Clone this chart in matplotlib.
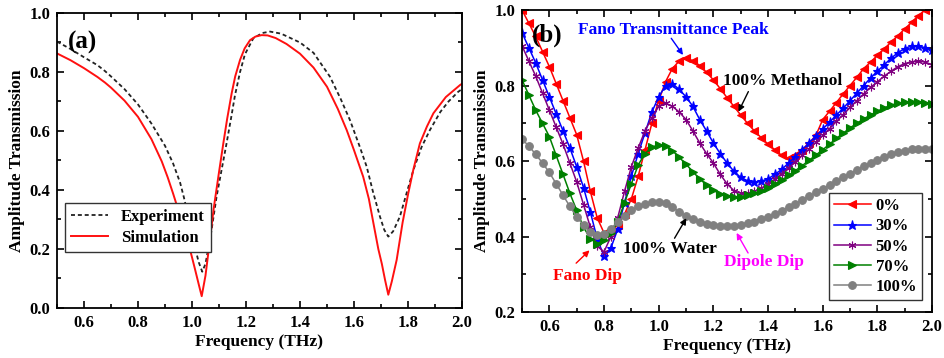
import numpy as np
import matplotlib
matplotlib.use('Agg')
import matplotlib.pyplot as plt
from matplotlib.ticker import MultipleLocator

plt.rcParams['font.family'] = ['Liberation Serif', 'DejaVu Serif']
plt.rcParams['font.weight'] = 'bold'
plt.rcParams['axes.labelweight'] = 'bold'
plt.rcParams['font.size'] = 12

# ---- panel (a): experiment vs simulation ----
exp_x = [0.5, 0.55, 0.6, 0.65, 0.678, 0.7, 0.75, 0.8, 0.85, 0.9, 0.93, 0.956, 0.97, 0.99,
         1.011, 1.025, 1.038, 1.05, 1.07, 1.091, 1.11, 1.128, 1.145, 1.159, 1.178, 1.196,
         1.227, 1.26, 1.289, 1.33, 1.4, 1.45, 1.511, 1.55, 1.585, 1.62, 1.647, 1.67, 1.696,
         1.712, 1.727, 1.745, 1.77, 1.795, 1.82, 1.85, 1.881, 1.92, 1.95, 1.986, 2.0]
exp_y = [0.903, 0.878, 0.85, 0.823, 0.803, 0.785, 0.742, 0.69, 0.625, 0.55, 0.49, 0.425, 0.375, 0.295,
         0.205, 0.155, 0.123, 0.15, 0.25, 0.377, 0.47, 0.558, 0.645, 0.72, 0.8, 0.86,
         0.914, 0.932, 0.937, 0.93, 0.9, 0.865, 0.784, 0.71, 0.637, 0.55, 0.479, 0.395, 0.31,
         0.265, 0.242, 0.26, 0.31, 0.39, 0.468, 0.545, 0.603, 0.665, 0.7, 0.733, 0.742]

sim_x = [0.5, 0.55, 0.6, 0.65, 0.678, 0.7, 0.75, 0.8, 0.85, 0.888, 0.91, 0.93, 0.95, 0.97,
         0.99, 1.0, 1.011, 1.025, 1.036, 1.05, 1.065, 1.08, 1.1, 1.116, 1.13, 1.147, 1.16,
         1.178, 1.195, 1.215, 1.235, 1.258, 1.28, 1.31, 1.35, 1.4, 1.45, 1.5, 1.54, 1.573,
         1.6, 1.634, 1.655, 1.672, 1.69, 1.703, 1.715, 1.727, 1.74, 1.758, 1.78, 1.801,
         1.82, 1.844, 1.87, 1.894, 1.94, 1.993, 2.0]
sim_y = [0.863, 0.84, 0.813, 0.783, 0.764, 0.747, 0.703, 0.648, 0.572, 0.497, 0.443, 0.388, 0.33, 0.27,
         0.207, 0.172, 0.132, 0.08, 0.04, 0.11, 0.22, 0.335, 0.46, 0.558, 0.64, 0.728, 0.785,
         0.841, 0.88, 0.908, 0.92, 0.925, 0.924, 0.915, 0.895, 0.862, 0.815, 0.75, 0.675, 0.603,
         0.535, 0.445, 0.37, 0.287, 0.2, 0.15, 0.095, 0.045, 0.09, 0.163, 0.29, 0.389,
         0.47, 0.558, 0.615, 0.66, 0.715, 0.756, 0.76]

# ---- panel (b): methanol / water mixtures ----
freq_b = np.round(np.arange(0.5, 2.0001, 0.025), 3)
pct_labels = ['0%', '30%', '50%', '70%', '100%']

t0 = [1.00, 0.965, 0.93, 0.89, 0.85, 0.805, 0.76, 0.715, 0.67, 0.60, 0.52, 0.45, 0.41, 0.415,
      0.43, 0.46, 0.50, 0.56, 0.63, 0.70, 0.76, 0.81, 0.845, 0.865, 0.872, 0.866, 0.853, 0.835,
      0.815, 0.792, 0.768, 0.745, 0.722, 0.70, 0.68, 0.662, 0.645, 0.63, 0.615, 0.607, 0.615,
      0.63, 0.648, 0.668, 0.71, 0.732, 0.755, 0.778, 0.80, 0.822, 0.845, 0.862, 0.88, 0.897,
      0.915, 0.932, 0.95, 0.967, 0.985, 1.0, 1.015]
t30 = [0.94, 0.90, 0.86, 0.815, 0.77, 0.725, 0.68, 0.635, 0.585, 0.53, 0.465, 0.395, 0.348,
       0.37, 0.42, 0.49, 0.56, 0.62, 0.675, 0.73, 0.77, 0.80, 0.805, 0.79, 0.77, 0.745, 0.71,
       0.68, 0.648, 0.62, 0.595, 0.573, 0.557, 0.548, 0.545, 0.547, 0.553, 0.565, 0.578, 0.595,
       0.612, 0.63, 0.648, 0.666, 0.685, 0.703, 0.722, 0.74, 0.76, 0.78, 0.80, 0.82, 0.838,
       0.855, 0.872, 0.887, 0.898, 0.905, 0.905, 0.90, 0.893]
t50 = [0.905, 0.865, 0.825, 0.78, 0.735, 0.69, 0.645, 0.595, 0.545, 0.485, 0.425, 0.375, 0.36,
       0.40, 0.45, 0.52, 0.585, 0.635, 0.68, 0.715, 0.745, 0.753, 0.745, 0.73, 0.71, 0.68, 0.648,
       0.62, 0.595, 0.565, 0.54, 0.522, 0.515, 0.515, 0.52, 0.528, 0.54, 0.552, 0.567, 0.582,
       0.598, 0.615, 0.632, 0.65, 0.668, 0.686, 0.705, 0.723, 0.742, 0.76, 0.778, 0.795, 0.81,
       0.825, 0.838, 0.85, 0.858, 0.863, 0.865, 0.862, 0.855]
t70 = [0.815, 0.775, 0.735, 0.70, 0.665, 0.615, 0.565, 0.515, 0.47, 0.425, 0.395, 0.382, 0.39,
       0.41, 0.44, 0.49, 0.54, 0.59, 0.62, 0.637, 0.643, 0.64, 0.628, 0.61, 0.592, 0.572, 0.553,
       0.537, 0.523, 0.513, 0.507, 0.505, 0.506, 0.51, 0.515, 0.522, 0.53, 0.54, 0.55, 0.562,
       0.575, 0.588, 0.602, 0.616, 0.63, 0.645, 0.66, 0.674, 0.688, 0.70, 0.712, 0.722, 0.732,
       0.741, 0.748, 0.753, 0.756, 0.757, 0.757, 0.754, 0.75]
t100 = [0.658, 0.64, 0.618, 0.595, 0.57, 0.54, 0.51, 0.48, 0.453, 0.43, 0.412, 0.404, 0.408,
        0.42, 0.44, 0.455, 0.47, 0.48, 0.487, 0.491, 0.492, 0.488, 0.478, 0.466, 0.455, 0.446,
        0.439, 0.434, 0.43, 0.428, 0.428, 0.429, 0.431, 0.435, 0.44, 0.446, 0.452, 0.46, 0.469,
        0.478, 0.487, 0.497, 0.507, 0.517, 0.527, 0.537, 0.547, 0.557, 0.567, 0.577, 0.587,
        0.596, 0.604, 0.612, 0.619, 0.624, 0.628, 0.631, 0.633, 0.633, 0.632]

series_b = [t0, t30, t50, t70, t100]
colors_b = ['#ff0000', '#0000ff', '#800080', '#008000', '#808080']
markers_b = ['<', '*', (6, 2, 0), '>', 'o']
msizes_b = [5.5, 6.5, 5.5, 5.5, 5.5]

fig = plt.figure(figsize=(9.45, 3.58), dpi=100)
ax1 = fig.add_axes([0.0603, 0.1397, 0.4286, 0.8240])
ax2 = fig.add_axes([0.5524, 0.1277, 0.4339, 0.8444])

ax1.plot(exp_x, exp_y, color='#222222', lw=1.3, ls=(0, (2.2, 1.6)), label='Experiment')
ax1.plot(sim_x, sim_y, color='#ff1010', lw=1.4, label='Simulation')
ax1.set_xlim(0.5, 2.0)
ax1.set_ylim(0.0, 1.0)
ax1.set_xticks([0.6, 0.8, 1.0, 1.2, 1.4, 1.6, 1.8, 2.0])
ax1.set_yticks([0.0, 0.2, 0.4, 0.6, 0.8, 1.0])
ax1.text(0.596, 0.90, '(a)', fontsize=18, fontweight='bold', ha='center', va='center')
leg1 = ax1.legend(loc='upper left', bbox_to_anchor=(0.02, 0.356), borderaxespad=0,
                  fancybox=False, framealpha=1, edgecolor='#333333', fontsize=12,
                  handlelength=2.2, borderpad=0.35, labelspacing=0.3)
leg1.get_frame().set_linewidth(1.0)

for y, c, m, ms, lab in zip(series_b, colors_b, markers_b, msizes_b, pct_labels):
    ax2.plot(freq_b, y, color=c, marker=m, ms=ms, lw=1.1, mew=0.8, label=lab)
ax2.set_xlim(0.5, 2.0)
ax2.set_ylim(0.2, 1.0)
ax2.set_xticks([0.6, 0.8, 1.0, 1.2, 1.4, 1.6, 1.8, 2.0])
ax2.set_yticks([0.2, 0.4, 0.6, 0.8, 1.0])
ax2.text(0.593, 0.934, '(b)', fontsize=18, fontweight='bold', ha='center', va='center')

arr = dict(arrowstyle='-|>', lw=1.0, mutation_scale=9, shrinkA=0, shrinkB=0)
ax2.text(1.052, 0.947, 'Fano Transmittance Peak', color='#0000ff', fontsize=12.5,
         fontweight='bold', ha='center', va='center')
ax2.annotate('', xy=(1.089, 0.881), xytext=(1.046, 0.925), arrowprops=dict(arr, color='#0000ff'))
ax2.text(1.453, 0.812, '100% Methanol', color='black', fontsize=12.5,
         fontweight='bold', ha='center', va='center')
ax2.annotate('', xy=(1.292, 0.731), xytext=(1.328, 0.784), arrowprops=dict(arr, color='black'))
ax2.text(1.04, 0.367, '100% Water', color='black', fontsize=12.5,
         fontweight='bold', ha='center', va='center')
ax2.annotate('', xy=(1.101, 0.449), xytext=(1.058, 0.396), arrowprops=dict(arr, color='black'))
ax2.text(0.738, 0.297, 'Fano Dip', color='#ff0000', fontsize=12.5,
         fontweight='bold', ha='center', va='center')
ax2.annotate('', xy=(0.747, 0.364), xytext=(0.698, 0.330), arrowprops=dict(arr, color='#ff0000'))
ax2.text(1.385, 0.332, 'Dipole Dip', color='#ff00ff', fontsize=12.5,
         fontweight='bold', ha='center', va='center')
ax2.annotate('', xy=(1.285, 0.41), xytext=(1.327, 0.357), arrowprops=dict(arr, color='#ff00ff'))

leg2 = ax2.legend(loc='lower right', bbox_to_anchor=(0.976, 0.041), borderaxespad=0,
                  fancybox=False, framealpha=1, edgecolor='#333333', fontsize=12,
                  numpoints=1, handlelength=2.2, borderpad=0.3, labelspacing=0.25,
                  handletextpad=0.3)
leg2.get_frame().set_linewidth(1.0)

for ax in (ax1, ax2):
    ax.xaxis.set_minor_locator(MultipleLocator(0.1))
    ax.yaxis.set_minor_locator(MultipleLocator(0.1))
    ax.tick_params(which='both', direction='in', top=True, right=True, width=1.2)
    ax.tick_params(which='major', length=5, labelsize=12, pad=5)
    ax.tick_params(which='minor', length=3)
    for lab in ax.get_xticklabels() + ax.get_yticklabels():
        lab.set_fontweight('bold')
    for s in ax.spines.values():
        s.set_linewidth(1.3)
    ax.set_xlabel('Frequency (THz)', fontsize=12.5, fontweight='bold', labelpad=2)
    ax.set_ylabel('Amplitude Transmission', fontsize=12.5, fontweight='bold', labelpad=3)

fig.savefig('out.png', dpi=100)
